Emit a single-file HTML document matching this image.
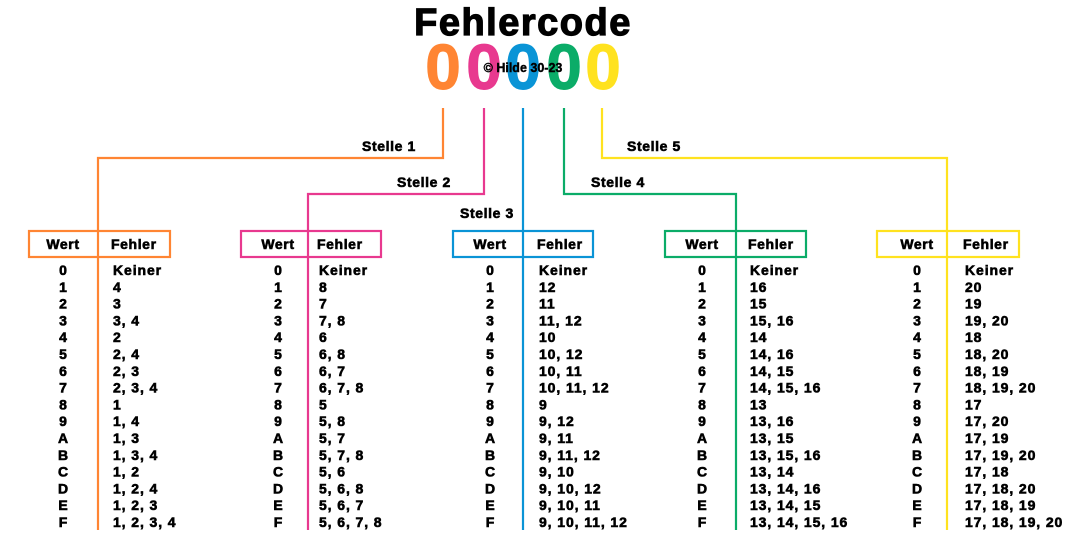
<!DOCTYPE html>
<html><head><meta charset="utf-8"><style>
html,body{margin:0;padding:0;background:#fff;width:1081px;height:550px;overflow:hidden}
svg{display:block}
text{font-family:"Liberation Sans",Arial,sans-serif;font-weight:bold;fill:#000}
.t{stroke:#000;stroke-width:0.6}
</style></head><body>
<svg id="s" width="1081" height="550" viewBox="0 0 1081 550" xmlns="http://www.w3.org/2000/svg">
<text x="523" y="35" text-anchor="middle" font-size="38" letter-spacing="1.5" style="stroke:#000;stroke-width:1.2">Fehlercode</text>
<g font-size="64" text-anchor="middle">
<text x="443" y="89" style="fill:#ff8533;stroke:#ff8533;stroke-width:1">0</text>
<text x="484" y="89" style="fill:#e8398f;stroke:#e8398f;stroke-width:1">0</text>
<text x="523" y="89" style="fill:#0a94d6;stroke:#0a94d6;stroke-width:1">0</text>
<text x="564" y="89" style="fill:#0bac68;stroke:#0bac68;stroke-width:1">0</text>
<text x="603" y="89" style="fill:#ffe21f;stroke:#ffe21f;stroke-width:1">0</text>
</g>
<text x="523" y="72" text-anchor="middle" font-size="12.5" class="t" style="stroke-width:0.4">© Hilde 30-23</text>
<g font-size="14" letter-spacing="0.6" class="t">
<text x="362" y="151">Stelle 1</text>
<text x="397" y="187">Stelle 2</text>
<text x="460" y="218">Stelle 3</text>
<text x="591" y="187">Stelle 4</text>
<text x="627" y="151">Stelle 5</text>
</g>
<g id="g"></g>
</svg>
<script>
var cols=[
{c:"#ff8533",bx:29,bw:141,lx:98,px:443,hy:158,w:63,f:113,v:["Keiner","4","3","3, 4","2","2, 4","2, 3","2, 3, 4","1","1, 4","1, 3","1, 3, 4","1, 2","1, 2, 4","1, 2, 3","1, 2, 3, 4"]},
{c:"#e8398f",bx:241,bw:140,lx:308,px:484,hy:194,w:278,f:319,v:["Keiner","8","7","7, 8","6","6, 8","6, 7","6, 7, 8","5","5, 8","5, 7","5, 7, 8","5, 6","5, 6, 8","5, 6, 7","5, 6, 7, 8"]},
{c:"#0a94d6",bx:453,bw:140,lx:523,px:523,hy:null,w:490,f:539,v:["Keiner","12","11","11, 12","10","10, 12","10, 11","10, 11, 12","9","9, 12","9, 11","9, 11, 12","9, 10","9, 10, 12","9, 10, 11","9, 10, 11, 12"]},
{c:"#0bac68",bx:665,bw:141,lx:736,px:564,hy:194,w:702,f:750,v:["Keiner","16","15","15, 16","14","14, 16","14, 15","14, 15, 16","13","13, 16","13, 15","13, 15, 16","13, 14","13, 14, 16","13, 14, 15","13, 14, 15, 16"]},
{c:"#ffe21f",bx:877,bw:142,lx:947,px:602,hy:158,w:917,f:965,v:["Keiner","20","19","19, 20","18","18, 20","18, 19","18, 19, 20","17","17, 20","17, 19","17, 19, 20","17, 18","17, 18, 20","17, 18, 19","17, 18, 19, 20"]}];
var k="0123456789ABCDEF",h="";
cols.forEach(function(o){
 var st='stroke="'+o.c+'" stroke-width="2.2" fill="none"';
 if(o.hy) h+='<polyline points="'+o.px+',108 '+o.px+','+o.hy+' '+o.lx+','+o.hy+' '+o.lx+',530" '+st+'/>';
 else h+='<line x1="'+o.lx+'" y1="108" x2="'+o.lx+'" y2="530" '+st+'/>';
 h+='<rect x="'+o.bx+'" y="231" width="'+o.bw+'" height="26" fill="#fff" '+st+'/>';
 h+='<line x1="'+o.lx+'" y1="231" x2="'+o.lx+'" y2="257" '+st+'/>';
 h+='<text class="t" x="'+o.w+'" y="249" text-anchor="middle" font-size="14" letter-spacing="0.6">Wert</text>';
 h+='<text class="t" x="'+(o.f-2)+'" y="249" font-size="14" letter-spacing="0.6">Fehler</text>';
 for(var i=0;i<16;i++){var y=(275+i*16.8).toFixed(1);
  h+='<text class="t" x="'+o.w+'" y="'+y+'" text-anchor="middle" font-size="14">'+k[i]+'</text>';
  h+='<text class="t" x="'+o.f+'" y="'+y+'" font-size="14" letter-spacing="0.9">'+o.v[i]+'</text>';}
});
document.getElementById("g").innerHTML=h;
</script>
</body></html>
